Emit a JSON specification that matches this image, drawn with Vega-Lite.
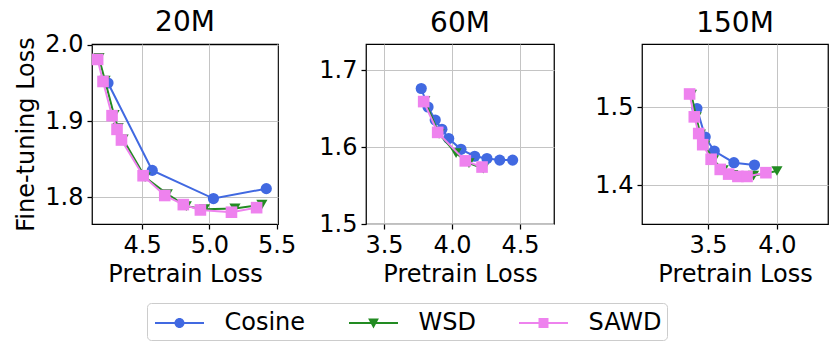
{
  "$schema": "https://vega.github.io/schema/vega-lite/v6.json",
  "padding": {"left": 14, "top": 8, "right": 0, "bottom": 3},
  "background": "white",
  "bounds": "flush",
  "spacing": 88,
  "config": {
    "font": "DejaVu Sans",
    "view": {"stroke": "black", "strokeWidth": 1.25},
    "axis": {"domain": false, "grid": true, "gridColor": "#c4c4c4", "gridWidth": 1, "tickColor": "black", "tickSize": 5, "tickWidth": 1.25, "labelFontSize": 24, "labelColor": "black", "labelPadding": 4, "titleFontSize": 24, "titleFontWeight": "normal", "titleColor": "black", "labelFont": "DejaVu Sans", "titleFont": "DejaVu Sans", "format": ".1f"},
    "axisX": {"titlePadding": 5},
    "axisY": {"titlePadding": 6},
    "title": {"fontSize": 28, "fontWeight": "normal", "font": "DejaVu Sans", "offset": 6, "frame": "group", "color": "black"}
  },
  "data": {"values": [
    {"panel": "20M", "series": "Cosine", "x": 4.246, "y": 1.950},
    {"panel": "20M", "series": "Cosine", "x": 4.575, "y": 1.835},
    {"panel": "20M", "series": "Cosine", "x": 5.030, "y": 1.798},
    {"panel": "20M", "series": "Cosine", "x": 5.423, "y": 1.811},
    {"panel": "20M", "series": "WSD", "x": 4.179, "y": 1.983},
    {"panel": "20M", "series": "WSD", "x": 4.224, "y": 1.953},
    {"panel": "20M", "series": "WSD", "x": 4.291, "y": 1.908},
    {"panel": "20M", "series": "WSD", "x": 4.321, "y": 1.891},
    {"panel": "20M", "series": "WSD", "x": 4.358, "y": 1.876},
    {"panel": "20M", "series": "WSD", "x": 4.522, "y": 1.826},
    {"panel": "20M", "series": "WSD", "x": 4.687, "y": 1.804},
    {"panel": "20M", "series": "WSD", "x": 4.828, "y": 1.788},
    {"panel": "20M", "series": "WSD", "x": 4.963, "y": 1.784},
    {"panel": "20M", "series": "WSD", "x": 5.190, "y": 1.785},
    {"panel": "20M", "series": "WSD", "x": 5.390, "y": 1.790},
    {"panel": "20M", "series": "SAWD", "x": 4.169, "y": 1.981},
    {"panel": "20M", "series": "SAWD", "x": 4.209, "y": 1.952},
    {"panel": "20M", "series": "SAWD", "x": 4.276, "y": 1.907},
    {"panel": "20M", "series": "SAWD", "x": 4.313, "y": 1.889},
    {"panel": "20M", "series": "SAWD", "x": 4.346, "y": 1.875},
    {"panel": "20M", "series": "SAWD", "x": 4.507, "y": 1.828},
    {"panel": "20M", "series": "SAWD", "x": 4.668, "y": 1.802},
    {"panel": "20M", "series": "SAWD", "x": 4.806, "y": 1.790},
    {"panel": "20M", "series": "SAWD", "x": 4.933, "y": 1.783},
    {"panel": "20M", "series": "SAWD", "x": 5.164, "y": 1.780},
    {"panel": "20M", "series": "SAWD", "x": 5.351, "y": 1.786},
    {"panel": "60M", "series": "Cosine", "x": 3.774, "y": 1.676},
    {"panel": "60M", "series": "Cosine", "x": 3.824, "y": 1.652},
    {"panel": "60M", "series": "Cosine", "x": 3.877, "y": 1.635},
    {"panel": "60M", "series": "Cosine", "x": 3.926, "y": 1.623},
    {"panel": "60M", "series": "Cosine", "x": 3.976, "y": 1.611},
    {"panel": "60M", "series": "Cosine", "x": 4.066, "y": 1.597},
    {"panel": "60M", "series": "Cosine", "x": 4.167, "y": 1.588},
    {"panel": "60M", "series": "Cosine", "x": 4.257, "y": 1.585},
    {"panel": "60M", "series": "Cosine", "x": 4.351, "y": 1.583},
    {"panel": "60M", "series": "Cosine", "x": 4.446, "y": 1.583},
    {"panel": "60M", "series": "WSD", "x": 3.800, "y": 1.660},
    {"panel": "60M", "series": "WSD", "x": 3.905, "y": 1.617},
    {"panel": "60M", "series": "WSD", "x": 4.030, "y": 1.592},
    {"panel": "60M", "series": "WSD", "x": 4.125, "y": 1.579},
    {"panel": "60M", "series": "WSD", "x": 4.230, "y": 1.572},
    {"panel": "60M", "series": "SAWD", "x": 3.792, "y": 1.659},
    {"panel": "60M", "series": "SAWD", "x": 3.895, "y": 1.619},
    {"panel": "60M", "series": "SAWD", "x": 4.098, "y": 1.582},
    {"panel": "60M", "series": "SAWD", "x": 4.221, "y": 1.574},
    {"panel": "150M", "series": "Cosine", "x": 3.420, "y": 1.498},
    {"panel": "150M", "series": "Cosine", "x": 3.480, "y": 1.4615},
    {"panel": "150M", "series": "Cosine", "x": 3.546, "y": 1.4436},
    {"panel": "150M", "series": "Cosine", "x": 3.688, "y": 1.4286},
    {"panel": "150M", "series": "Cosine", "x": 3.837, "y": 1.4256},
    {"panel": "150M", "series": "WSD", "x": 3.380, "y": 1.516},
    {"panel": "150M", "series": "WSD", "x": 3.415, "y": 1.487},
    {"panel": "150M", "series": "WSD", "x": 3.445, "y": 1.465},
    {"panel": "150M", "series": "WSD", "x": 3.477, "y": 1.451},
    {"panel": "150M", "series": "WSD", "x": 3.540, "y": 1.432},
    {"panel": "150M", "series": "WSD", "x": 3.610, "y": 1.419},
    {"panel": "150M", "series": "WSD", "x": 3.680, "y": 1.413},
    {"panel": "150M", "series": "WSD", "x": 3.750, "y": 1.411},
    {"panel": "150M", "series": "WSD", "x": 3.830, "y": 1.412},
    {"panel": "150M", "series": "WSD", "x": 4.000, "y": 1.418},
    {"panel": "150M", "series": "SAWD", "x": 3.367, "y": 1.5167},
    {"panel": "150M", "series": "SAWD", "x": 3.401, "y": 1.4874},
    {"panel": "150M", "series": "SAWD", "x": 3.433, "y": 1.466},
    {"panel": "150M", "series": "SAWD", "x": 3.462, "y": 1.4517},
    {"panel": "150M", "series": "SAWD", "x": 3.523, "y": 1.433},
    {"panel": "150M", "series": "SAWD", "x": 3.589, "y": 1.420},
    {"panel": "150M", "series": "SAWD", "x": 3.650, "y": 1.414},
    {"panel": "150M", "series": "SAWD", "x": 3.717, "y": 1.411},
    {"panel": "150M", "series": "SAWD", "x": 3.783, "y": 1.411},
    {"panel": "150M", "series": "SAWD", "x": 3.920, "y": 1.4158}
  ]},
  "hconcat": [
    {
      "width": 186, "height": 180, "title": {"text": "20M", "offset": -4},
      "transform": [{"filter": "datum.panel === '20M'"}],
      "encoding": {
        "x": {"field": "x", "type": "quantitative", "scale": {"domain": [4.127, 5.51], "nice": false, "zero": false}, "axis": {"values": [4.5, 5.0, 5.5], "title": "Pretrain Loss"}},
        "y": {"field": "y", "type": "quantitative", "scale": {"domain": [1.7645, 2.0013], "nice": false, "zero": false}, "axis": {"values": [1.8, 1.9, 2.0], "title": "Fine-tuning Loss"}}
      },
      "layer": [
        {"transform": [{"filter": "datum.series === 'Cosine'"}], "mark": {"type": "line", "color": "#4169E1", "strokeWidth": 2}},
        {"transform": [{"filter": "datum.series === 'Cosine'"}], "mark": {"type": "point", "shape": "circle", "filled": true, "opacity": 1, "color": "#4169E1", "size": 125}},
        {"transform": [{"filter": "datum.series === 'WSD'"}], "mark": {"type": "line", "color": "#228B22", "strokeWidth": 2}},
        {"transform": [{"filter": "datum.series === 'WSD'"}], "mark": {"type": "point", "shape": "triangle-down", "filled": true, "opacity": 1, "color": "#228B22", "size": 125}},
        {"transform": [{"filter": "datum.series === 'SAWD'"}], "mark": {"type": "line", "color": "#EE82EE", "strokeWidth": 2}},
        {"transform": [{"filter": "datum.series === 'SAWD'"}], "mark": {"type": "point", "shape": "square", "filled": true, "opacity": 1, "color": "#EE82EE", "size": 135}},
        {
          "mark": {"type": "point", "filled": true, "opacity": 0},
          "encoding": {
            "color": {"field": "series", "type": "nominal",
              "scale": {"domain": ["Cosine", "WSD", "SAWD"], "range": ["#4169E1", "#228B22", "#EE82EE"]},
              "legend": {"title": null, "orient": "none", "legendX": 55, "legendY": 259, "direction": "horizontal", "symbolSize": 900, "labelFontSize": 24, "labelFont": "DejaVu Sans", "labelColor": "black", "padding": 5, "strokeColor": "#cccccc", "fillColor": "white", "cornerRadius": 4, "columnPadding": 40, "labelOffset": 30, "symbolOffset": 12.5, "symbolOpacity": 1, "symbolStrokeWidth": 0}},
            "shape": {"field": "series", "type": "nominal",
              "scale": {"domain": ["Cosine", "WSD", "SAWD"], "range": [
                "M-1.633,-0.067H1.633V0.067H-1.633Z M0.333,0A0.333,0.333 0 1,1 -0.333,0A0.333,0.333 0 1,1 0.333,0Z",
                "M-1.633,-0.067H1.633V0.067H-1.633Z M-0.36,-0.3L0.36,-0.3L0,0.36Z",
                "M-1.633,-0.067H1.633V0.067H-1.633Z M-0.333,-0.333H0.333V0.333H-0.333Z"
              ]},
              "legend": {"title": null, "orient": "none", "legendX": 55, "legendY": 259, "direction": "horizontal", "symbolSize": 900, "labelFontSize": 24, "labelFont": "DejaVu Sans", "labelColor": "black", "padding": 5, "strokeColor": "#cccccc", "fillColor": "white", "cornerRadius": 4, "columnPadding": 40, "labelOffset": 30, "symbolOffset": 12.5, "symbolOpacity": 1, "symbolStrokeWidth": 0}}
          }
        }
      ]
    },
    {
      "width": 188, "height": 180, "title": "60M",
      "transform": [{"filter": "datum.panel === '60M'"}],
      "encoding": {
        "x": {"field": "x", "type": "quantitative", "scale": {"domain": [3.368, 4.75], "nice": false, "zero": false}, "axis": {"values": [3.5, 4.0, 4.5], "title": "Pretrain Loss"}},
        "y": {"field": "y", "type": "quantitative", "scale": {"domain": [1.5, 1.7338], "nice": false, "zero": false}, "axis": {"values": [1.5, 1.6, 1.7], "title": null}}
      },
      "layer": [
        {"transform": [{"filter": "datum.series === 'Cosine'"}], "mark": {"type": "line", "color": "#4169E1", "strokeWidth": 2}},
        {"transform": [{"filter": "datum.series === 'Cosine'"}], "mark": {"type": "point", "shape": "circle", "filled": true, "opacity": 1, "color": "#4169E1", "size": 125}},
        {"transform": [{"filter": "datum.series === 'WSD'"}], "mark": {"type": "line", "color": "#228B22", "strokeWidth": 2}},
        {"transform": [{"filter": "datum.series === 'WSD'"}], "mark": {"type": "point", "shape": "triangle-down", "filled": true, "opacity": 1, "color": "#228B22", "size": 125}},
        {"transform": [{"filter": "datum.series === 'SAWD'"}], "mark": {"type": "line", "color": "#EE82EE", "strokeWidth": 2}},
        {"transform": [{"filter": "datum.series === 'SAWD'"}], "mark": {"type": "point", "shape": "square", "filled": true, "opacity": 1, "color": "#EE82EE", "size": 135}}
      ]
    },
    {
      "width": 186, "height": 180, "title": "150M",
      "transform": [{"filter": "datum.panel === '150M'"}],
      "encoding": {
        "x": {"field": "x", "type": "quantitative", "scale": {"domain": [3.022, 4.37], "nice": false, "zero": false}, "axis": {"values": [3.5, 4.0], "title": "Pretrain Loss"}},
        "y": {"field": "y", "type": "quantitative", "scale": {"domain": [1.35, 1.5808], "nice": false, "zero": false}, "axis": {"values": [1.4, 1.5], "title": null}}
      },
      "layer": [
        {"transform": [{"filter": "datum.series === 'Cosine'"}], "mark": {"type": "line", "color": "#4169E1", "strokeWidth": 2}},
        {"transform": [{"filter": "datum.series === 'Cosine'"}], "mark": {"type": "point", "shape": "circle", "filled": true, "opacity": 1, "color": "#4169E1", "size": 125}},
        {"transform": [{"filter": "datum.series === 'WSD'"}], "mark": {"type": "line", "color": "#228B22", "strokeWidth": 2}},
        {"transform": [{"filter": "datum.series === 'WSD'"}], "mark": {"type": "point", "shape": "triangle-down", "filled": true, "opacity": 1, "color": "#228B22", "size": 125}},
        {"transform": [{"filter": "datum.series === 'SAWD'"}], "mark": {"type": "line", "color": "#EE82EE", "strokeWidth": 2}},
        {"transform": [{"filter": "datum.series === 'SAWD'"}], "mark": {"type": "point", "shape": "square", "filled": true, "opacity": 1, "color": "#EE82EE", "size": 135}}
      ]
    }
  ]
}
